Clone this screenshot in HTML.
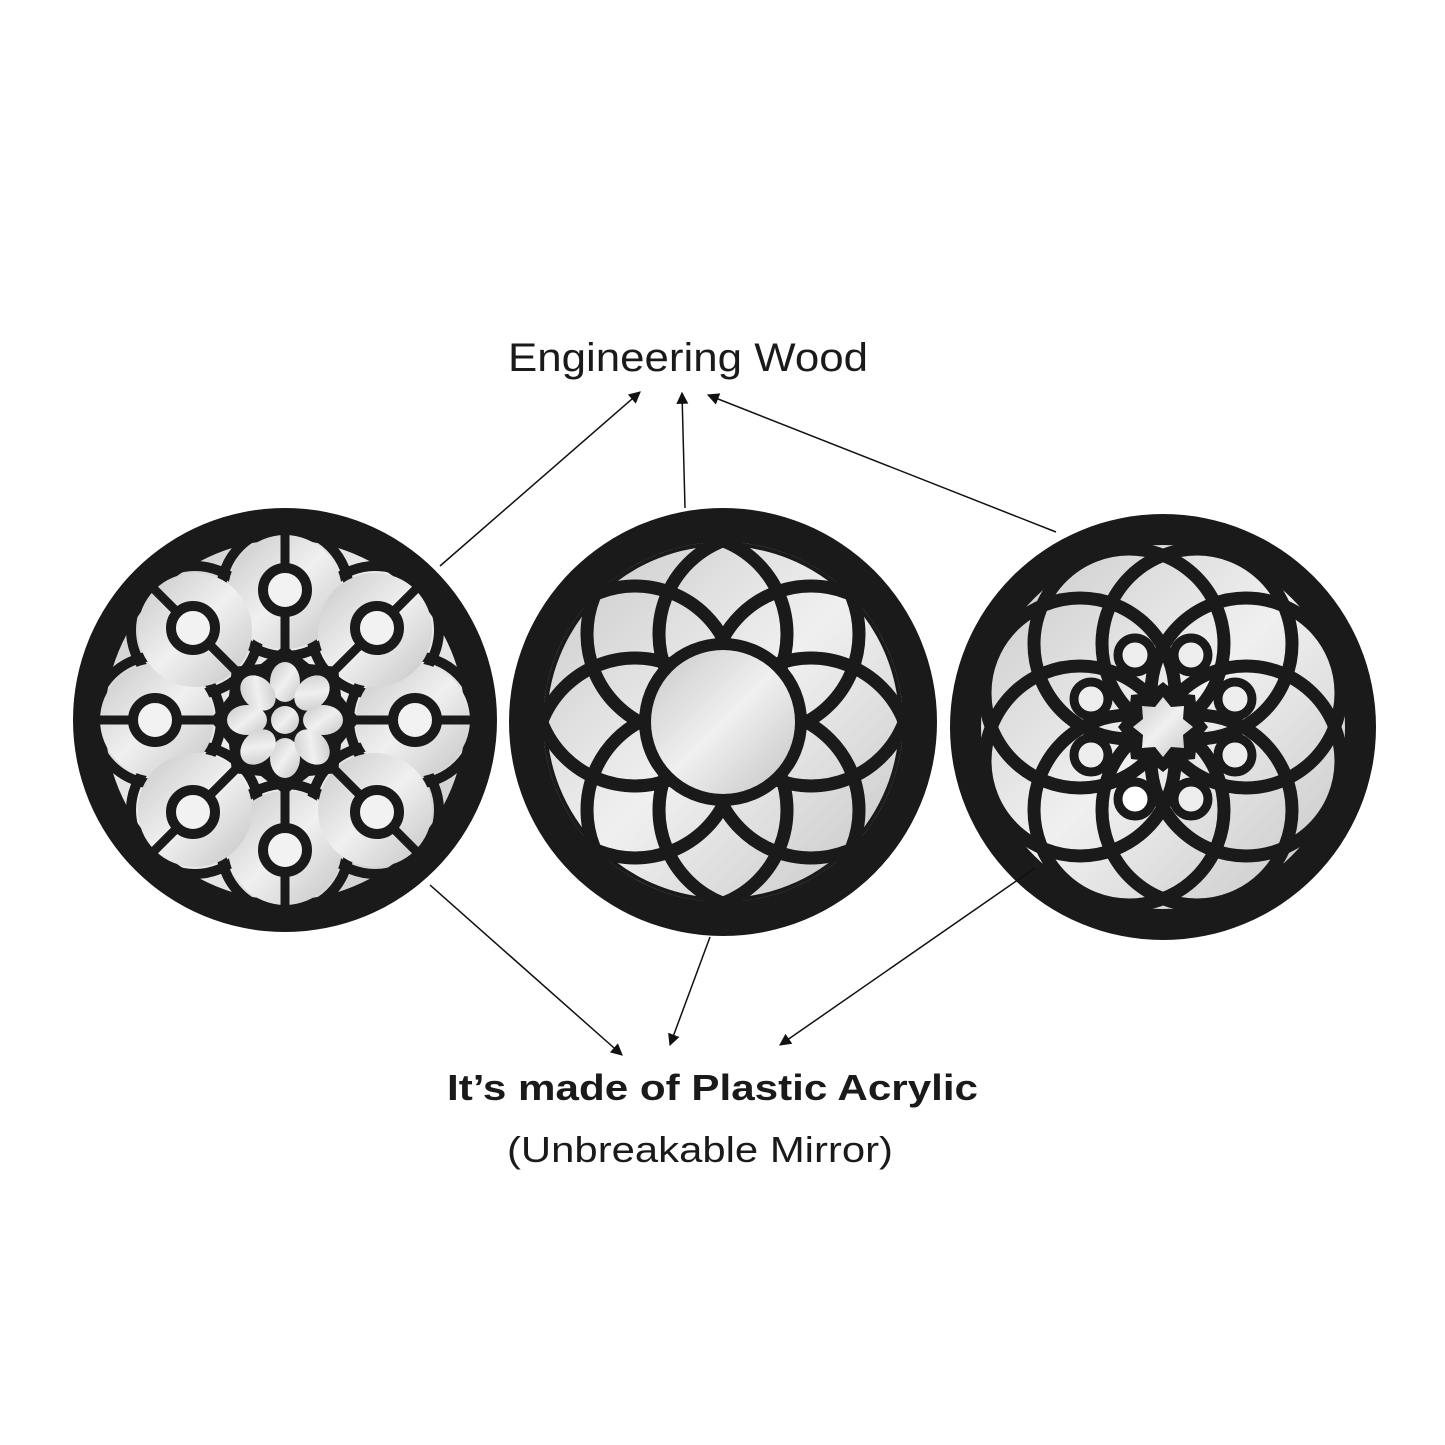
<!DOCTYPE html>
<html><head><meta charset="utf-8"><style>
html,body{margin:0;padding:0;background:#fff;}
svg{display:block}
</style></head><body>
<svg width="1445" height="1445" viewBox="0 0 1445 1445" xmlns="http://www.w3.org/2000/svg">
<defs>
<linearGradient id="m" x1="0" y1="0" x2="1" y2="1">
<stop offset="0" stop-color="#c8c8c8"/><stop offset="0.5" stop-color="#f0f0f0"/><stop offset="1" stop-color="#c4c4c4"/>
</linearGradient>
<marker id="ar" viewBox="0 0 10 10" refX="9" refY="5" markerWidth="14" markerHeight="12" orient="auto" markerUnits="userSpaceOnUse">
<path d="M0,0 L10,5 L0,10 z" fill="#111"/></marker>
</defs>
<rect width="1445" height="1445" fill="#fff"/>

<!-- LEFT -->
<g transform="translate(285,720)">
<circle r="212" fill="#1a1a1a"/>
<circle r="180" fill="url(#m)"/>
<g fill="none" stroke="#1a1a1a" stroke-width="10">
<circle cx="0" cy="-128" r="64"/><circle cx="0" cy="128" r="64"/><circle cx="-128" cy="0" r="64"/><circle cx="128" cy="0" r="64"/>
<circle cx="90" cy="-90" r="64"/><circle cx="-90" cy="-90" r="64"/><circle cx="90" cy="90" r="64"/><circle cx="-90" cy="90" r="64"/>
</g>
<g fill="url(#m)" stroke="none">
<circle cx="0" cy="-128" r="57"/><circle cx="0" cy="128" r="57"/><circle cx="-128" cy="0" r="57"/><circle cx="128" cy="0" r="57"/>
<circle cx="90" cy="-90" r="57"/><circle cx="-90" cy="-90" r="57"/><circle cx="90" cy="90" r="57"/><circle cx="-90" cy="90" r="57"/>
</g>
<g fill="none" stroke="#1a1a1a" stroke-width="9">
<line x1="0" y1="-185" x2="0" y2="185"/><line x1="-185" y1="0" x2="185" y2="0"/>
<line x1="-131" y1="-131" x2="131" y2="131"/><line x1="-131" y1="131" x2="131" y2="-131"/>
</g>
<g fill="#f2f2f2" stroke="#1a1a1a" stroke-width="10">
<circle cx="0" cy="-130" r="22"/><circle cx="0" cy="130" r="22"/><circle cx="-130" cy="0" r="22"/><circle cx="130" cy="0" r="22"/>
<circle cx="92" cy="-92" r="22"/><circle cx="-92" cy="-92" r="22"/><circle cx="92" cy="92" r="22"/><circle cx="-92" cy="92" r="22"/>
</g>
<polygon points="0,-75 24,-56 53,-53 56,-24 75,0 56,24 53,53 24,56 0,75 -24,56 -53,53 -56,24 -75,0 -56,-24 -53,-53 -24,-56" fill="#1a1a1a"/>
<g fill="url(#m)">
<ellipse cx="0" cy="-38" rx="15" ry="20"/><ellipse cx="0" cy="38" rx="15" ry="20"/>
<ellipse cx="-38" cy="0" rx="20" ry="15"/><ellipse cx="38" cy="0" rx="20" ry="15"/>
<ellipse cx="27" cy="-27" rx="15" ry="20" transform="rotate(45 27 -27)"/><ellipse cx="-27" cy="27" rx="15" ry="20" transform="rotate(45 -27 27)"/>
<ellipse cx="-27" cy="-27" rx="15" ry="20" transform="rotate(-45 -27 -27)"/><ellipse cx="27" cy="27" rx="15" ry="20" transform="rotate(-45 27 27)"/>
<circle r="14"/>
</g>
</g>

<!-- MIDDLE -->
<g transform="translate(723,722)">
<circle r="214" fill="#1a1a1a"/>
<circle r="180" fill="url(#m)"/>
<g fill="none" stroke="#1a1a1a" stroke-width="13">
<circle cx="36" cy="-88" r="100"/><circle cx="-36" cy="-88" r="100"/>
<circle cx="88" cy="-36" r="100"/><circle cx="-88" cy="-36" r="100"/>
<circle cx="88" cy="36" r="100"/><circle cx="-88" cy="36" r="100"/>
<circle cx="36" cy="88" r="100"/><circle cx="-36" cy="88" r="100"/>
</g>
<circle r="178" fill="none" stroke="#1a1a1a" stroke-width="4"/>
<circle r="84" fill="#1a1a1a"/>
<circle r="72" fill="url(#m)"/>
</g>

<!-- RIGHT -->
<g transform="translate(1163,727)">
<circle r="213" fill="#1a1a1a"/>
<circle r="182" fill="url(#m)"/>
<g fill="none" stroke="#1a1a1a" stroke-width="13">
<circle cx="34" cy="-83" r="95"/><circle cx="-34" cy="-83" r="95"/>
<circle cx="83" cy="-34" r="95"/><circle cx="-83" cy="-34" r="95"/>
<circle cx="83" cy="34" r="95"/><circle cx="-83" cy="34" r="95"/>
<circle cx="34" cy="83" r="95"/><circle cx="-34" cy="83" r="95"/>
</g>
<polygon points="0,-45 14,-34 32,-32 34,-14 45,0 34,14 32,32 14,34 0,45 -14,34 -32,32 -34,14 -45,0 -34,-14 -32,-32 -14,-34" fill="#1a1a1a"/>
<polygon points="0,-30 8,-20 21,-21 20,-8 30,0 20,8 21,21 8,20 0,30 -8,20 -21,21 -20,8 -30,0 -20,-8 -21,-21 -8,-20" fill="url(#m)"/>
<g fill="#eee" stroke="#1a1a1a" stroke-width="9">
<circle cx="28" cy="-72" r="17"/><circle cx="-28" cy="-72" r="17"/>
<circle cx="72" cy="-28" r="17"/><circle cx="-72" cy="-28" r="17"/>
<circle cx="72" cy="28" r="17"/><circle cx="-72" cy="28" r="17"/>
<circle cx="28" cy="72" r="17"/><circle cx="-28" cy="72" r="17" fill="#fff"/>
</g>
</g>

<!-- arrows -->
<g stroke="#111" stroke-width="1.5" marker-end="url(#ar)">
<line x1="440" y1="566" x2="640" y2="392"/>
<line x1="685" y1="508" x2="682" y2="393"/>
<line x1="1056" y1="532" x2="708" y2="395"/>
<line x1="430" y1="885" x2="622" y2="1055"/>
<line x1="710" y1="937" x2="670" y2="1045"/>
<line x1="1035" y1="868" x2="780" y2="1045"/>
</g>

<g font-family="Liberation Sans, Arial, sans-serif" fill="#1a1a1a">
<text x="508" y="371" font-size="40" textLength="360" lengthAdjust="spacingAndGlyphs">Engineering Wood</text>
<text x="447" y="1100" font-size="36" font-weight="bold" textLength="531" lengthAdjust="spacingAndGlyphs">It’s made of Plastic Acrylic</text>
<text x="507" y="1162" font-size="36" textLength="386" lengthAdjust="spacingAndGlyphs">(Unbreakable Mirror)</text>
</g>
</svg>
</body></html>
